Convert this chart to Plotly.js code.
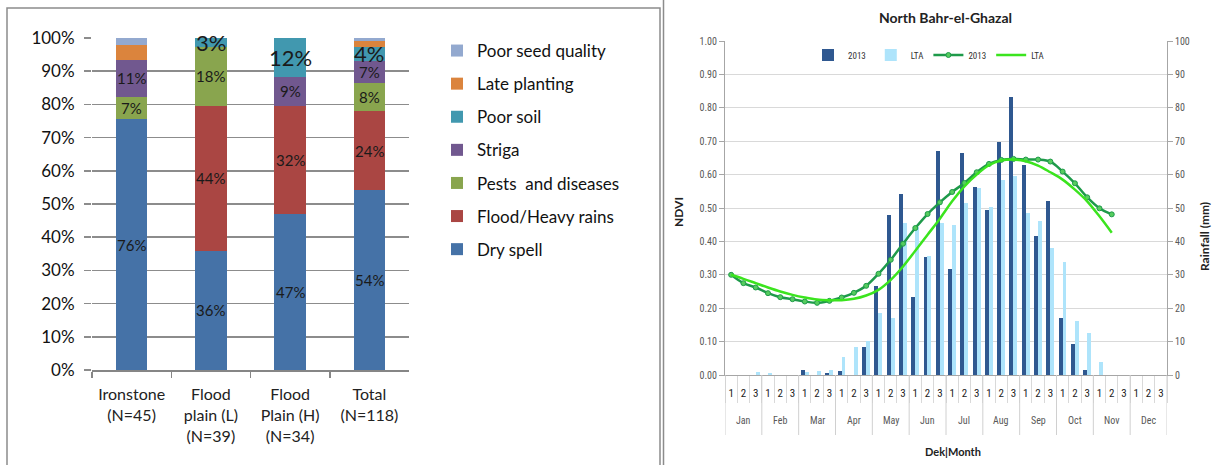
<!DOCTYPE html>
<html><head><meta charset="utf-8">
<script src="https://cdn.plot.ly/plotly-3.0.1.min.js"></script>
<style>html,body{margin:0;padding:0;background:#fff;overflow:hidden;} #chart{width:1218px;height:465px;}</style>
</head><body><div id="chart"></div>
<script>
// ---------- Left chart data (% of respondents) ----------
const sites = ['Ironstone<br>(N=45)', 'Flood<br>plain (L)<br>(N=39)', 'Flood<br>Plain (H)<br>(N=34)', 'Total<br>(N=118)'];
const drySpell     = [75.6, 35.9, 47.1, 54.2];
const floodRains   = [0, 43.6, 32.4, 23.7];
const pests        = [6.7, 17.9, 0, 8.5];
const striga       = [11.1, 0, 8.8, 6.8];
const poorSoil     = [0, 2.6, 11.8, 4.2];
const latePlanting = [4.4, 0, 0, 1.7];
const poorSeed     = [2.2, 0, 0, 0.8];
const dryLabels      = ['76%', '36%', '47%', '54%'];
const floodLabels    = ['', '44%', '32%', '24%'];
const pestsLabels    = ['7%', '18%', '', '8%'];
const strigaLabels   = ['11%', '', '9%', '7%'];
const poorSoilLabels = ['', '3%', '12%', '4%'];
const lateLabels     = ['', '', '', ''];
const seedLabels     = ['', '', '', ''];

// ---------- Right chart data ----------
const months = ['Jan','Feb','Mar','Apr','May','Jun','Jul','Aug','Sep','Oct','Nov','Dec'];
const dekads = ['1','2','3'];
const rain2013 = [0,0,0, 0,0,0, 1.5,0,0.7, 1.1,0,8.5, 26.7,47.9,54.3, 23.5,35.2,67.2, 31.6,66.4,56.2, 49.4,69.7,83.1, 62.9,41.7,52.2, 17.0,9.3,1.5, 0,0,0, 0,0,0];
const rainLTA  = [0,0,1.0, 0.7,0,0, 0.8,1.1,1.5, 5.5,8.5,10.2, 18.5,17.0,45.4, 44.4,35.6,45.4, 44.9,51.4,55.9, 50.2,58.4,59.6, 48.6,46.1,38.1, 33.9,16.2,12.5, 4.0,0,0, 0,0,0];
const ndvi2013 = [0.300,0.275,0.262, 0.245,0.233,0.227, 0.220,0.216,0.222, 0.232,0.246,0.267, 0.303,0.345,0.393, 0.440,0.482,0.517, 0.548,0.575,0.607, 0.632,0.644,0.647, 0.645,0.645,0.639, 0.609,0.574,0.532, 0.499,0.481];
const ndviLTA  = [0.300,0.288,0.275, 0.262,0.250,0.240, 0.232,0.226,0.224, 0.224,0.228,0.238, 0.255,0.285,0.325, 0.372,0.420,0.468, 0.520,0.565,0.600, 0.628,0.642,0.645, 0.640,0.627,0.607, 0.585,0.555,0.520, 0.475,0.426];

// category keys (month + dekad) built from the named arrays
const dekKeys = [], dekText = [];
months.forEach(m => dekads.forEach(d => { dekKeys.push(m + ' ' + d); dekText.push(d); }));
const nL = ndvi2013.length;

const W = 1218, H = 465;
const px = v => v / W, py = v => 1 - v / H;

const leftFont = 'Lato, "Open Sans", sans-serif';
const rightFont = '"Liberation Sans Narrow", "Roboto Condensed", Roboto, sans-serif';

const stackSeries = [
  {name: 'Dry spell', y: drySpell, color: '#4572A7', labels: dryLabels},
  {name: 'Flood/Heavy rains', y: floodRains, color: '#AA4643', labels: floodLabels},
  {name: 'Pests  and diseases', y: pests, color: '#89A54E', labels: pestsLabels},
  {name: 'Striga', y: striga, color: '#71588F', labels: strigaLabels},
  {name: 'Poor soil', y: poorSoil, color: '#4198AF', labels: poorSoilLabels},
  {name: 'Late planting', y: latePlanting, color: '#DB843D', labels: lateLabels},
  {name: 'Poor seed quality', y: poorSeed, color: '#93A9CF', labels: seedLabels}
];

const traces = [];
const annotations = [];
const shapes = [];
const cum = sites.map(() => 0);
stackSeries.forEach((s, k) => {
  traces.push({
    type: 'bar', x: sites, y: s.y, name: s.name, xaxis: 'x', yaxis: 'y',
    marker: {color: s.color}, legendgroup: 'g' + k, legend: 'legend', legendrank: 100 - k,
    hoverinfo: 'skip'
  });
  sites.forEach((c, i) => {
    const mid = cum[i] + s.y[i] / 2;
    if (s.labels[i]) {
      annotations.push({
        xref: 'x', yref: 'y', x: c, y: mid, text: s.labels[i], showarrow: false, xanchor: 'center',
        font: {family: leftFont, size: s.name === 'Poor soil' ? 22 : 15, color: '#1a1a1a'}
      });
    }
    cum[i] += s.y[i];
  });
});

// right chart
traces.push({
  type: 'bar', name: '2013', x: dekKeys, y: rain2013, xaxis: 'x2', yaxis: 'y2',
  marker: {color: '#2F5890'}, width: 0.32, offset: -0.33, legend: 'legend2', legendrank: 1, hoverinfo: 'skip'
});
traces.push({
  type: 'bar', name: 'LTA', x: dekKeys, y: rainLTA, xaxis: 'x2', yaxis: 'y3',
  marker: {color: '#AEE4FB'}, width: 0.32, offset: -0.01, legend: 'legend2', legendrank: 2, hoverinfo: 'skip'
});
traces.push({
  type: 'scatter', mode: 'lines+markers', name: '2013',
  x: dekKeys.slice(0, nL), y: ndvi2013, xaxis: 'x2', yaxis: 'y4',
  line: {color: '#1E9A4A', width: 2.5, shape: 'spline'},
  marker: {symbol: 'circle', size: 5, color: '#56CC5E', line: {color: '#1E9A4A', width: 1}},
  legend: 'legend2', legendrank: 3, hoverinfo: 'skip'
});
traces.push({
  type: 'scatter', mode: 'lines', name: 'LTA',
  x: dekKeys.slice(0, nL), y: ndviLTA, xaxis: 'x2', yaxis: 'y4',
  line: {color: '#3BE41E', width: 2.5, shape: 'spline'},
  legend: 'legend2', legendrank: 4, hoverinfo: 'skip'
});

// month labels and month dividers on the dekad axis
months.forEach((m, j) => {
  annotations.push({xref: 'x2', yref: 'paper', x: m + ' 2', y: py(420), text: m, showarrow: false,
    xanchor: 'center', yanchor: 'middle', font: {family: rightFont, size: 10, color: '#595959'}});
});
for (let j = 0; j <= months.length; j++) {
  shapes.push({type: 'line', xref: 'x2', yref: 'paper', x0: j * 3 - 0.5, x1: j * 3 - 0.5,
    y0: py(435), y1: py(375), line: {color: '#D0D0D0', width: 1}});
}

annotations.push(
  {xref: 'paper', yref: 'paper', x: px(945), y: py(18), xanchor: 'center', yanchor: 'middle', text: '<b>North Bahr-el-Ghazal</b>', showarrow: false,
   font: {family: leftFont, size: 14, color: '#222'}},
  {xref: 'paper', yref: 'paper', x: px(678), y: py(212), xanchor: 'center', yanchor: 'middle', text: '<b>NDVI</b>', textangle: -90, showarrow: false,
   font: {family: leftFont, size: 12, color: '#222'}},
  {xref: 'paper', yref: 'paper', x: px(1205), y: py(237), xanchor: 'center', yanchor: 'middle', text: '<b>Rainfall (mm)</b>', textangle: -90, showarrow: false,
   font: {family: leftFont, size: 12, color: '#222'}},
  {xref: 'paper', yref: 'paper', x: px(953), y: py(451), xanchor: 'center', yanchor: 'middle', text: '<b>Dek|Month</b>', showarrow: false,
   font: {family: leftFont, size: 11, color: '#222'}}
);

shapes.push(
  {type: 'rect', xref: 'paper', yref: 'paper', x0: px(7), x1: px(660), y0: -0.2, y1: py(8),
   line: {color: '#8C8C8C', width: 1.5}, fillcolor: 'rgba(0,0,0,0)'},
  {type: 'line', xref: 'paper', yref: 'paper', x0: px(663.5), x1: px(663.5), y0: -0.2, y1: 1.2,
   line: {color: '#8C8C8C', width: 1.5}}
);

const layout = {
  width: W, height: H, autosize: false,
  margin: {l: 0, r: 0, t: 0, b: 0, pad: 0, autoexpand: false},
  paper_bgcolor: '#fff', plot_bgcolor: 'rgba(0,0,0,0)',
  barmode: 'stack', bargap: 0.6,
  showlegend: true,
  xaxis: {
    domain: [px(92), px(409)], anchor: 'y', type: 'category', automargin: false,
    showline: true, linecolor: '#868686', linewidth: 2, tickangle: 0, ticklabelstandoff: 9,
    ticks: 'outside', tickson: 'boundaries', ticklen: 6, tickcolor: '#868686', tickwidth: 1.5,
    tickfont: {family: leftFont, size: 16, color: '#222'}, showgrid: false, fixedrange: true
  },
  yaxis: {
    domain: [py(370), py(38)], anchor: 'x', range: [0, 100], dtick: 10, ticksuffix: '%', automargin: false,
    showgrid: true, gridcolor: '#8C8C8C', gridwidth: 1.5, zeroline: false, showline: false,
    ticks: 'outside', ticklen: 7, tickcolor: '#8C8C8C', tickwidth: 1.5, ticklabelstandoff: 6,
    tickfont: {family: leftFont, size: 17, color: '#111'}, fixedrange: true
  },
  xaxis2: {
    domain: [px(725), px(1167)], anchor: 'y2', type: 'category', automargin: false,
    categoryorder: 'array', categoryarray: dekKeys, range: [-0.5, dekKeys.length - 0.5],
    tickmode: 'array', tickvals: dekKeys, ticktext: dekText, tickangle: 0, ticklabelstandoff: 8,
    tickson: 'boundaries', showline: true, linecolor: '#A6A6A6', linewidth: 1,
    ticks: 'outside', ticklen: 27, tickcolor: '#D9D9D9',
    tickfont: {family: rightFont, size: 11, color: '#222'}, showgrid: false, fixedrange: true
  },
  yaxis2: {
    domain: [py(375), py(41)], anchor: 'x2', side: 'right', range: [0, 100], dtick: 10, automargin: false,
    showgrid: true, gridcolor: '#D9D9D9', gridwidth: 1, zeroline: false,
    showline: true, linecolor: '#A6A6A6', ticks: 'outside', ticklen: 5, tickcolor: '#A6A6A6',
    tickfont: {family: rightFont, size: 10, color: '#595959'}, fixedrange: true
  },
  yaxis3: {
    overlaying: 'y2', anchor: 'x2', range: [0, 100], visible: false, fixedrange: true, automargin: false
  },
  yaxis4: {
    overlaying: 'y2', anchor: 'x2', side: 'left', range: [0, 1], dtick: 0.1, tickformat: '.2f', automargin: false,
    showgrid: false, zeroline: false, showline: true, linecolor: '#A6A6A6',
    ticks: 'outside', ticklen: 5, tickcolor: '#A6A6A6',
    tickfont: {family: rightFont, size: 10, color: '#595959'}, fixedrange: true
  },
  legend: {
    x: px(437), y: py(33), xanchor: 'left', yanchor: 'top',
    traceorder: 'grouped', tracegroupgap: 8,
    font: {family: leftFont, size: 17, color: '#111'}, bgcolor: 'rgba(0,0,0,0)'
  },
  legend2: {
    x: px(808), y: py(55), xanchor: 'left', yanchor: 'middle', orientation: 'h',
    traceorder: 'normal',
    font: {family: rightFont, size: 9, color: '#333'}, bgcolor: 'rgba(0,0,0,0)'
  },
  shapes: shapes,
  annotations: annotations
};

Plotly.newPlot('chart', traces, layout, {staticPlot: true, displayModeBar: false});
</script>
</body></html>
